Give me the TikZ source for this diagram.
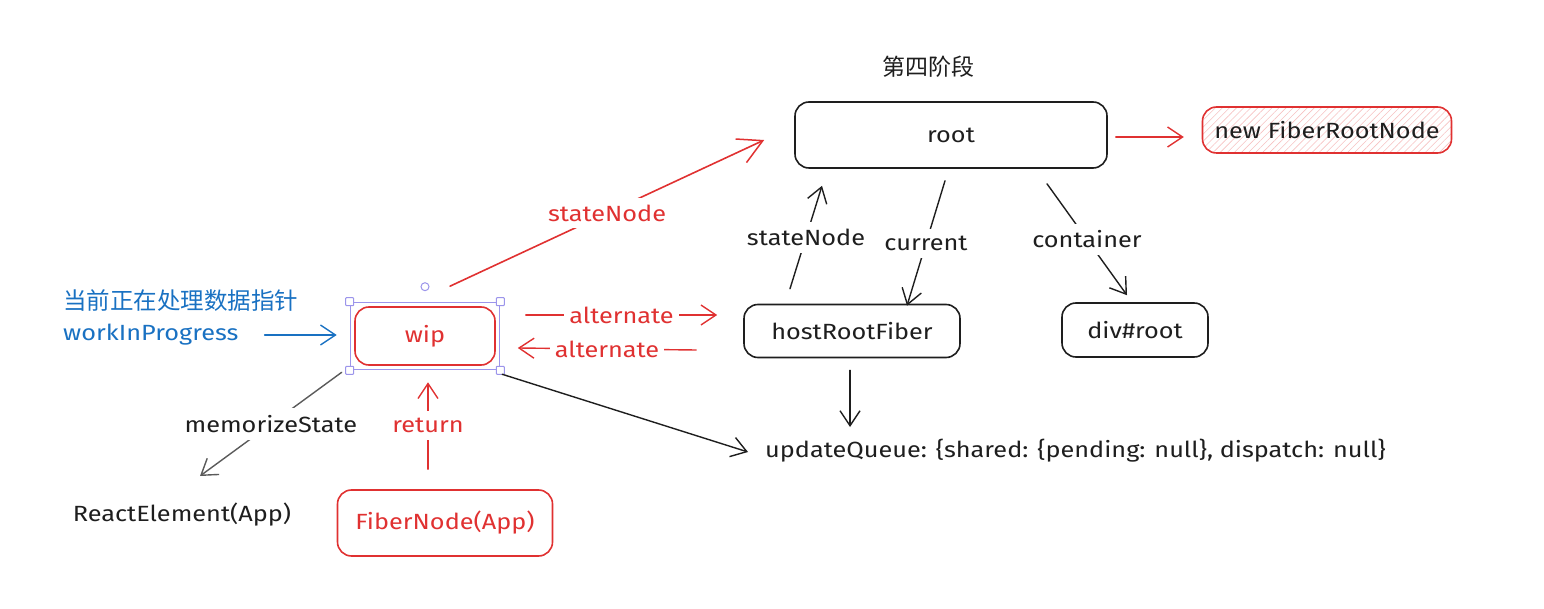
\documentclass[tikz,border=0pt]{standalone}
\usepackage{fontspec}
\setmainfont{Fira Sans}[FakeStretch=1.15]
\newfontfamily\cjk{Noto Sans CJK SC}
\usetikzlibrary{arrows.meta,patterns.meta,fit,calc}
\definecolor{redc}{HTML}{E03131}
\definecolor{bluec}{HTML}{1971C2}
\definecolor{ink}{HTML}{1E1E1E}
\definecolor{sel}{HTML}{9C95EB}
\definecolor{grayc}{HTML}{5A5A5A}
\tikzset{
  txt/.style={font=\fontsize{22}{25}\selectfont, inner sep=0pt, text=ink},
  box/.style={txt, draw=ink, line width=1.6pt, rounded corners=14pt},
  rbox/.style={box, draw=redc, text=redc},
  lbl/.style={txt, fill=white, inner sep=7pt},
  arr/.style={line width=1.4pt, line cap=round,
    -{Straight Barb[length=15pt,width=20pt,line width=1.4pt]}},
  bigarr/.style={line width=1.6pt, line cap=round,
    -{Straight Barb[length=24pt,width=26pt,line width=1.5pt]}},
  handle/.style={draw=sel, fill=white, line width=1pt, minimum size=8pt, inner sep=0pt, rounded corners=0.8pt},
}
\begin{document}
\begin{tikzpicture}[x=1pt,y=-1pt]
\useasboundingbox (0,0) rectangle (1544,609);

% title
\node[txt, font=\cjk\fontsize{23}{26}\selectfont] (title) at (928,67) {第四阶段};

% boxes
\node[box, minimum width=312pt, minimum height=66pt] (root) at (951,135) {root};
\node[rbox, text=ink, minimum width=249pt, minimum height=46pt,
      pattern={Lines[angle=45,distance=5pt,line width=0.6pt]}, pattern color=redc!30] (frn) at (1327,130) {new FiberRootNode};
\node[box, minimum width=216pt, minimum height=53pt] (hrf) at (852,331) {hostRootFiber};
\node[box, minimum width=146pt, minimum height=54pt] (div) at (1135,330) {div\#root};
\node[rbox, minimum width=140pt, minimum height=58pt] (wip) at (425,336) {wip};
\node[rbox, minimum width=215pt, minimum height=66pt] (fn) at (445,523) {FiberNode(App)};
\node[txt] (re) at (182,515) {ReactElement(App)};
\node[txt, anchor=west] (uq) at (765,451) {updateQueue: \{shared: \{pending: null\}, dispatch: null\}};
\node[txt, text=bluec, anchor=west, font=\cjk\fontsize{23.5}{26}\selectfont] (cn) at (63,301) {当前正在处理数据指针};
\node[txt, text=bluec, anchor=west] (wp) at (63,335) {workInProgress};

% selection frame around wip
\node[draw=sel, line width=1pt, fit=(wip), inner sep=4pt] (selbox) {};
\foreach \a in {north west,north east,south west,south east}
  \node[handle] at (selbox.\a) {};
\node[draw=sel, circle, fill=white, line width=1pt, minimum size=8pt, inner sep=0pt] (rot) at ($(selbox.north)+(0,-15)$) {};

% connectors
\draw[arr, bluec, shorten <=26pt, shorten >=13pt] (wp.east) -- (wp.east -| selbox.west);

\coordinate (s1) at ($(wip.north)+(25,-20)$);
\coordinate (s2) at ($(root.west)+(-30,5)$);
\draw[bigarr, redc] (s1) -- node[lbl, text=redc] {stateNode} (s2);

\coordinate (a1) at ($(wip.east)+(30,-21)$);
\coordinate (a2) at ($(hrf.west)+(-26,-16)$);
\draw[arr, redc] (a1) -- node[lbl, text=redc, inner xsep=5pt] {alternate} (a2);

\coordinate (b1) at ($(hrf.west)+(-47,19)$);
\coordinate (b2) at ($(wip.east)+(22,12)$);
\draw[arr, redc] (b1) -- node[lbl, text=redc, inner xsep=5pt] {alternate} (b2);

\coordinate (c1) at ($(hrf.north)+(-62,-15)$);
\coordinate (c2) at ($(root.south)+(-129,17)$);
\draw[arr, ink] (c1) -- node[lbl] {stateNode} (c2);

\coordinate (d1) at ($(root.south)+(-6,12)$);
\coordinate (d2) at ($(hrf.north)+(55,2)$);
\draw[arr, ink] (d1) -- node[lbl] {current} (d2);

\coordinate (e1) at ($(root.south)+(96,15)$);
\coordinate (e2) at ($(div.north)+(-8,-7)$);
\draw[arr, ink] (e1) -- node[lbl] {container} (e2);

\draw[arr, ink, shorten <=12pt, shorten >=24pt] (hrf.south -| 850,0) -- (uq.west -| 850,0);

\coordinate (f1) at ($(selbox.south east)+(2,4)$);
\coordinate (f2) at ($(uq.west)+(-17,1)$);
\draw[arr, ink] (f1) -- (f2);

\coordinate (g1) at ($(selbox.south west)+(-8,2)$);
\coordinate (g2) at (200,476);
\draw[arr, grayc] (g1) -- node[lbl] {memorizeState} (g2);

\coordinate (h1) at ($(fn.north)+(-17,-20)$);
\coordinate (h2) at ($(selbox.south)+(3,12)$);
\draw[arr, redc] (h1) -- node[lbl, text=redc] {return} (h2);

\draw[arr, redc, shorten <=8pt, shorten >=20pt] ($(root.east)+(0,2)$) -- ($(root.east)+(96,2)$);
\end{tikzpicture}
\end{document}
